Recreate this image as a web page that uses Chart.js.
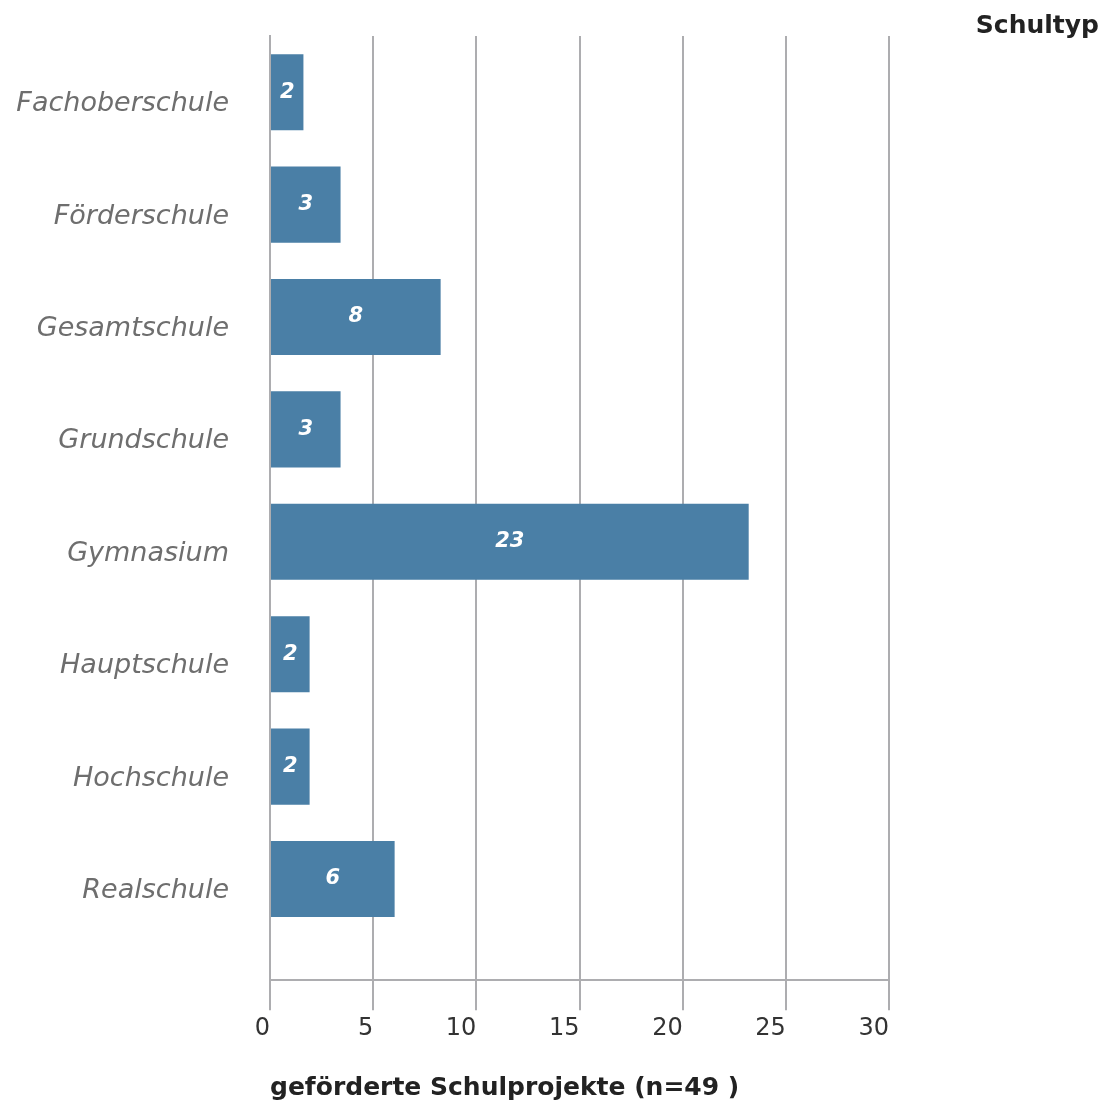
<!DOCTYPE html>
<html>
<head>
<meta charset="utf-8">
<script src="https://cdn.jsdelivr.net/npm/chart.js@4/dist/chart.umd.min.js"></script>
<style>
  html, body { margin: 0; padding: 0; background: #fff; }
  #wrap { width: 1099px; height: 1103px; }
</style>
</head>
<body>
<div id="wrap"><canvas id="myChart"></canvas></div>
<script>
// Schultypen (Kategorien), von oben nach unten
const schultypen = ["Fachoberschule", "Förderschule", "Gesamtschule", "Grundschule",
    "Gymnasium", "Hauptschule", "Hochschule", "Realschule"];
// Balkenlängen (Beschriftung = gerundeter Wert)
const projekte = [1.62, 3.42, 8.27, 3.42, 23.2, 1.92, 1.92, 6.04];
// Achse: geförderte Schulprojekte
const xMin = 0, xMax = 30, xSchritt = 5;

const grau = "#adadb0";
const schrift = "'DejaVu Sans', Verdana, sans-serif";

// Werte mittig in den Balken schreiben
const balkenWerte = {
    id: "balkenWerte",
    afterDraw(chart) {
        const ctx = chart.ctx;
        const meta = chart.getDatasetMeta(0);
        ctx.save();
        ctx.fillStyle = "#ffffff";
        ctx.font = "italic 600 21px " + schrift;
        ctx.textAlign = "center";
        ctx.textBaseline = "middle";
        meta.data.forEach((bar, i) => {
            const p = bar.getProps(["x", "y", "base"], true);
            ctx.fillText(String(Math.round(projekte[i])), (p.x + p.base) / 2, p.y);
        });
        ctx.restore();
    }
};

const ctx = document.getElementById("myChart").getContext("2d");
new Chart(ctx, {
    type: "bar",
    data: {
        datasets: [{
            data: projekte.map((v, i) => ({ x: v, y: i })),
            backgroundColor: "#4a7fa6",
            borderWidth: 0,
            categoryPercentage: 1,
            barPercentage: 0.677
        }]
    },
    options: {
        indexAxis: "y",
        responsive: true,
        maintainAspectRatio: false,
        animation: false,
        layout: { padding: 0 },
        plugins: {
            legend: { display: false },
            tooltip: { enabled: false },
            title: {
                display: true,
                text: "Schultyp",
                align: "end",
                color: "#222",
                font: { family: schrift, size: 25, weight: "bold", lineHeight: 1 },
                padding: { top: 14, bottom: -3 }
            }
        },
        scales: {
            x: {
                type: "linear",
                position: "bottom",
                min: xMin,
                max: xMax,
                z: 1,
                grid: { color: grau, lineWidth: 2, tickLength: 30, drawTicks: true },
                border: { display: true, color: grau, width: 2 },
                ticks: {
                    stepSize: xSchritt,
                    align: "end",
                    padding: 4,
                    color: "#333",
                    font: { family: schrift, size: 24 }
                },
                title: {
                    display: true,
                    text: "geförderte Schulprojekte (n=49 )",
                    align: "start",
                    color: "#222",
                    font: { family: schrift, size: 25, weight: "bold" },
                    padding: { top: 26, bottom: 0 }
                }
            },
            y: {
                type: "linear",
                position: "left",
                reverse: true,
                offset: false,
                min: -0.5,
                max: 7.9,
                afterBuildTicks: (s) => { s.ticks = schultypen.map((_, i) => ({ value: i })); },
                afterFit: (s) => { s.width = 270; },
                grid: { display: false, drawTicks: true, tickLength: 41 },
                border: { display: true, color: grau, width: 2 },
                ticks: {
                    callback: (v) => schultypen[v],
                    padding: 0,
                    labelOffset: 12,
                    color: "#6e6e6e",
                    font: { family: schrift, size: 27, style: "italic" }
                }
            },
            rechts: {
                axis: "y",
                type: "linear",
                position: "right",
                display: true,
                afterFit: (s) => { s.width = 210; },
                grid: { display: false, drawTicks: false },
                border: { display: false },
                ticks: { display: false }
            }
        }
    },
    plugins: [balkenWerte]
});
</script>
</body>
</html>
